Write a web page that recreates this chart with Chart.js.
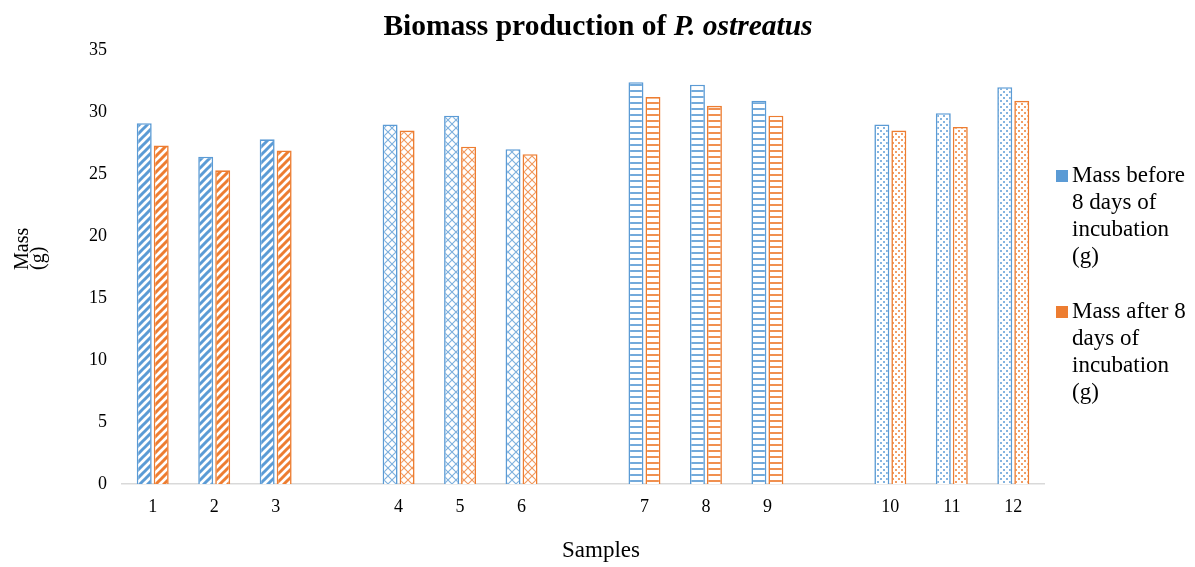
<!DOCTYPE html>
<html>
<head>
<meta charset="utf-8">
<script src="https://cdn.jsdelivr.net/npm/chart.js@4/dist/chart.umd.min.js"></script>
<style>
  html, body { margin: 0; padding: 0; background: #fff; }
  #wrap { width: 1195px; height: 567px; position: relative; }
</style>
</head>
<body>
<div id="wrap"><canvas id="biomassChart"></canvas></div>
<script>
// samples, with empty slots between the four groups
const samples = ['1', '2', '3', '', '4', '5', '6', '', '7', '8', '9', '', '10', '11', '12'];
const massBefore = [29.1, 26.4, 27.8, null, 29.0, 29.7, 27.0, null, 32.4, 32.2, 30.9, null, 29.0, 29.9, 32.0];
const massAfter = [27.3, 25.3, 26.9, null, 28.5, 27.2, 26.6, null, 31.2, 30.5, 29.7, null, 28.5, 28.8, 30.9];
const yTicks = [0, 5, 10, 15, 20, 25, 30, 35];
const legendBefore = ['Mass before', '8 days of', 'incubation', '(g)'];
const legendAfter = ['Mass after 8', 'days of', 'incubation', '(g)'];
const yTitle = ['Mass', '(g)'];
const xTitle = 'Samples';
// which fill pattern each slot uses
const patternKind = ['diag', 'diag', 'diag', null, 'cross', 'cross', 'cross', null, 'hline', 'hline', 'hline', null, 'dots', 'dots', 'dots'];

const blue = '#5B9BD5';
const orange = '#ED7D31';
const serif = "'Liberation Serif', 'Times New Roman', serif";

// build a canvas pattern for a given kind + colour
function makePattern(kind, color) {
  const c = document.createElement('canvas');
  const g = c.getContext('2d');
  let s = 8;
  if (kind === 'hline') s = 6;
  if (kind === 'dots') s = 6;
  c.width = s; c.height = s;
  g.fillStyle = '#fff';
  g.fillRect(0, 0, s, s);
  g.strokeStyle = color;
  g.fillStyle = color;
  if (kind === 'diag') {
    g.lineWidth = 3;
    g.beginPath();
    g.moveTo(-2, s + 2); g.lineTo(s + 2, -2);
    g.moveTo(-2, 2); g.lineTo(2, -2);
    g.moveTo(s - 2, s + 2); g.lineTo(s + 2, s - 2);
    g.stroke();
  } else if (kind === 'cross') {
    g.lineWidth = 1.1;
    g.globalAlpha = 0.8;
    g.beginPath();
    g.moveTo(0, 0); g.lineTo(s, s);
    g.moveTo(s, 0); g.lineTo(0, s);
    g.stroke();
  } else if (kind === 'hline') {
    g.globalAlpha = 0.85;
    g.fillRect(0, 0, s, 2);
  } else if (kind === 'dots') {
    g.globalAlpha = 0.75;
    g.fillRect(1, 1, 2, 2);
    g.fillRect(4, 4, 2, 2);
  }
  return g.createPattern(c, 'repeat');
}

const beforeFills = patternKind.map(k => k ? makePattern(k, blue) : '#fff');
const afterFills = patternKind.map(k => k ? makePattern(k, orange) : '#fff');

// title with italic species name
const titlePlugin = {
  id: 'mixedTitle',
  afterDraw(chart) {
    const ctx = chart.ctx;
    const a = 'Biomass production of ';
    const b = 'P. ostreatus';
    ctx.save();
    ctx.fillStyle = '#000';
    ctx.textBaseline = 'middle';
    ctx.font = 'bold 29.5px ' + serif;
    const wa = ctx.measureText(a).width;
    ctx.font = 'italic bold 29.5px ' + serif;
    const wb = ctx.measureText(b).width;
    const x0 = 598 - (wa + wb) / 2;
    ctx.font = 'bold 29.5px ' + serif;
    ctx.fillText(a, x0, 27);
    ctx.font = 'italic bold 29.5px ' + serif;
    ctx.fillText(b, x0 + wa, 27);
    ctx.restore();
  }
};

// axis titles, placed like the original (off-centre)
const axisTitles = {
  id: 'axisTitles',
  afterDraw(chart) {
    const ctx = chart.ctx;
    ctx.save();
    ctx.fillStyle = '#000';
    ctx.font = '23px ' + serif;
    ctx.textAlign = 'center';
    ctx.textBaseline = 'middle';
    ctx.fillText(xTitle, 601, 551);
    ctx.font = '20px ' + serif;
    ctx.textAlign = 'left';
    ctx.textBaseline = 'alphabetic';
    yTitle.forEach((line, i) => {
      ctx.save();
      ctx.translate(28 + i * 16, 270);
      ctx.rotate(-Math.PI / 2);
      ctx.fillText(line, 0, 0);
      ctx.restore();
    });
    ctx.restore();
  }
};

// legend on the right with wrapped lines
const sideLegend = {
  id: 'sideLegend',
  afterDraw(chart) {
    const ctx = chart.ctx;
    const x = chart.chartArea.right + 12;
    let y = 176;
    ctx.save();
    ctx.font = '23px ' + serif;
    ctx.textBaseline = 'middle';
    chart.data.datasets.forEach(ds => {
      ctx.fillStyle = ds.borderColor;
      ctx.fillRect(x, y - 6, 12, 12);
      ctx.fillStyle = '#000';
      ds.legendText.forEach((line, i) => {
        ctx.fillText(line, x + 16, y + i * 27);
      });
      y += ds.legendText.length * 27 + 28;
    });
    ctx.restore();
  }
};

const ctx = document.getElementById('biomassChart').getContext('2d');
new Chart(ctx, {
  type: 'bar',
  data: {
    labels: samples,
    datasets: [
      {
        label: 'Mass before 8 days of incubation (g)',
        legendText: legendBefore,
        data: massBefore,
        backgroundColor: beforeFills,
        borderColor: blue,
        borderWidth: 1.6
      },
      {
        label: 'Mass after 8 days of incubation (g)',
        legendText: legendAfter,
        data: massAfter,
        backgroundColor: afterFills,
        borderColor: orange,
        borderWidth: 1.6
      }
    ]
  },
  options: {
    responsive: true,
    maintainAspectRatio: false,
    animation: false,
    categoryPercentage: 0.553,
    barPercentage: 0.88,
    layout: { padding: { top: 50, right: 151, left: 0, bottom: 0 } },
    plugins: {
      title: { display: false },
      tooltip: { enabled: false },
      legend: { display: false }
    },
    scales: {
      x: {
        afterFit: axis => { axis.height = 83; },
        grid: { display: false, drawTicks: false },
        border: { display: true, color: '#d9d9d9', width: 1.5 },
        ticks: { font: { family: serif, size: 18 }, color: '#000', padding: 12 },
        title: { display: false }
      },
      y: {
        min: 0,
        max: 35,
        afterFit: axis => { axis.width = 122; },
        grid: { display: false, drawTicks: false },
        border: { display: false },
        afterBuildTicks: axis => { axis.ticks = yTicks.map(v => ({ value: v })); },
        ticks: { font: { family: serif, size: 18 }, color: '#000', padding: 15 },
        title: { display: false }
      }
    }
  },
  plugins: [titlePlugin, axisTitles, sideLegend]
});
</script>
</body>
</html>
